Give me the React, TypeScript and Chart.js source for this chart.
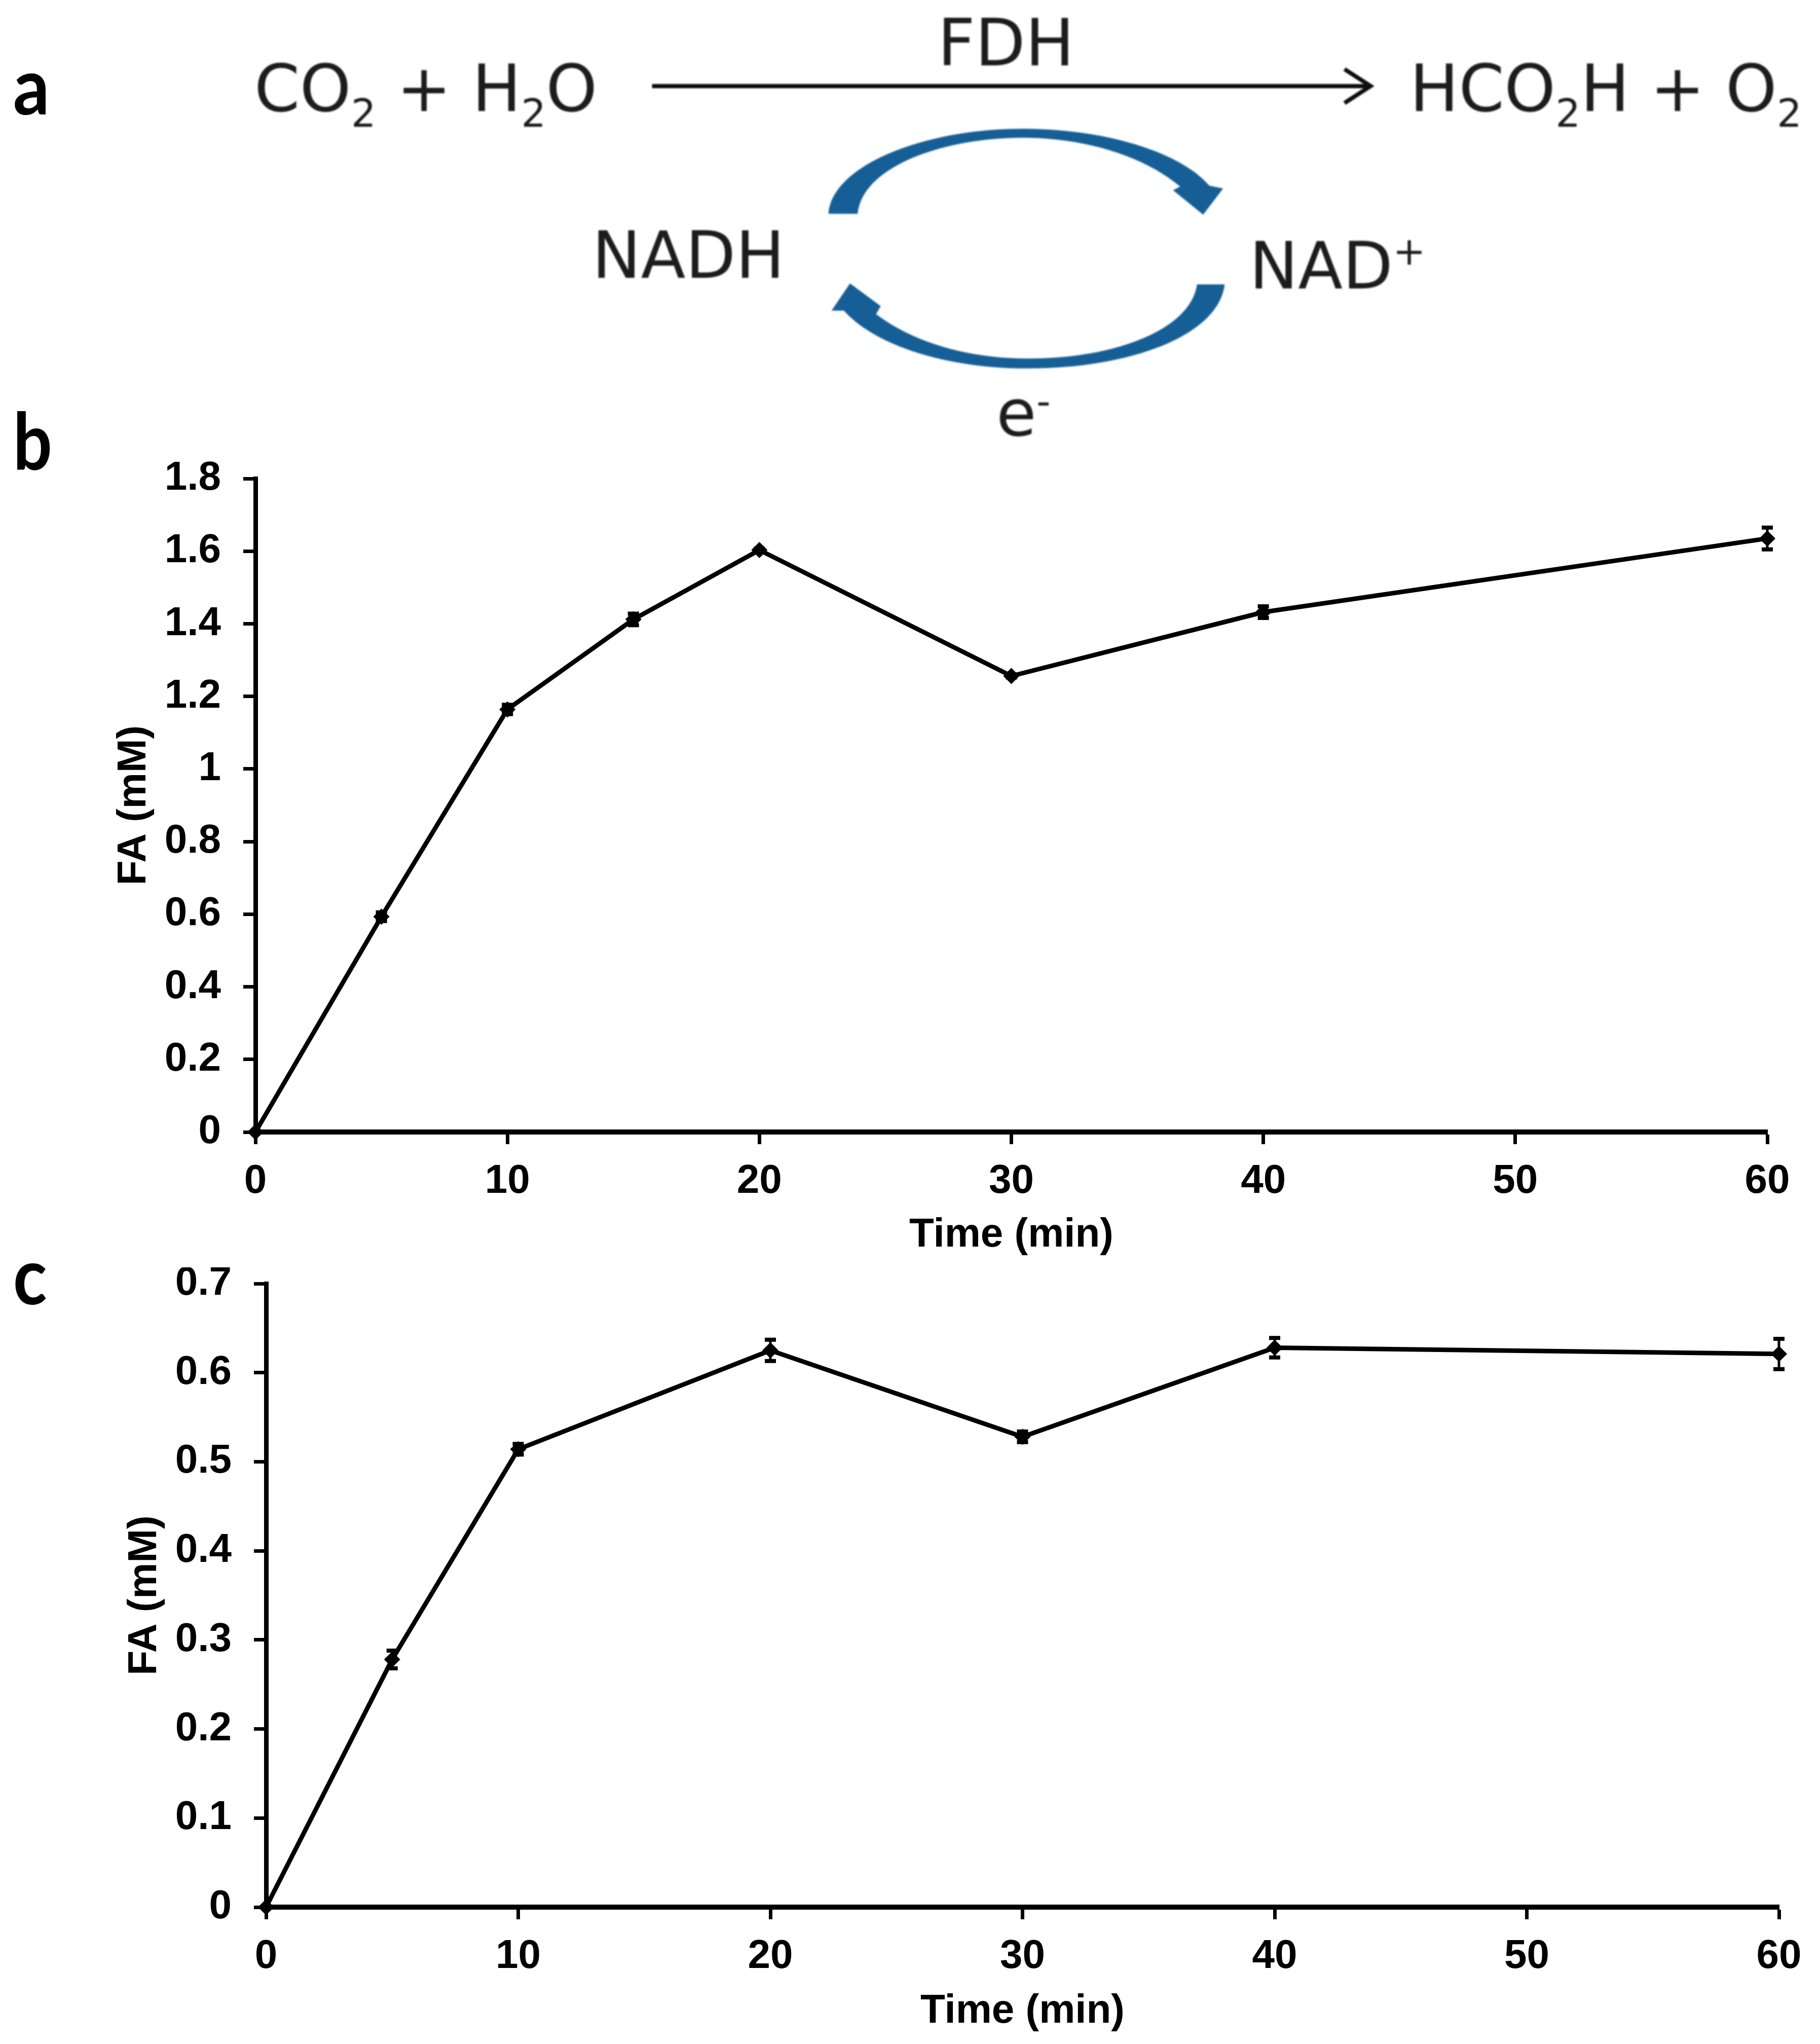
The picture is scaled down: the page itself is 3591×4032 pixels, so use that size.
import React, { useEffect, useRef } from "react";
import { Chart, registerables } from "chart.js";

Chart.register(...registerables);

const timesB = [0, 5, 10, 15, 20, 30, 40, 60];
const valuesB = [0, 0.593, 1.164, 1.412, 1.603, 1.256, 1.432, 1.635];
const errorsB = [0, 0.012, 0.013, 0.016, 0.004, 0.004, 0.016, 0.03];
const yLabelsB = ["0", "0.2", "0.4", "0.6", "0.8", "1", "1.2", "1.4", "1.6", "1.8"];

const timesC = [0, 5, 10, 20, 30, 40, 60];
const valuesC = [0, 0.278, 0.514, 0.625, 0.528, 0.628, 0.621];
const errorsC = [0, 0.01, 0.006, 0.012, 0.006, 0.011, 0.017];
const yLabelsC = ["0", "0.1", "0.2", "0.3", "0.4", "0.5", "0.6", "0.7"];

const xLabels = ["0", "10", "20", "30", "40", "50", "60"];

const FONT = "'Liberation Sans', Arial, sans-serif";

const errorBars = {
  id: "errorBars",
  afterDatasetsDraw(chart: any, _a: any, opts: any) {
    const { ctx, scales } = chart;
    const xs: number[] = opts.times;
    const ys: number[] = opts.values;
    const es: number[] = opts.errors;
    ctx.save();
    ctx.strokeStyle = "#000";
    xs.forEach((t, i) => {
      if (!es[i]) return;
      const px = scales.x.getPixelForValue(t);
      const hi = scales.y.getPixelForValue(ys[i] + es[i]);
      const lo = scales.y.getPixelForValue(ys[i] - es[i]);
      ctx.lineWidth = 5;
      ctx.beginPath();
      ctx.moveTo(px, hi);
      ctx.lineTo(px, lo);
      ctx.stroke();
      ctx.lineWidth = 8;
      ctx.beginPath();
      ctx.moveTo(px - 11, hi);
      ctx.lineTo(px + 11, hi);
      ctx.moveTo(px - 11, lo);
      ctx.lineTo(px + 11, lo);
      ctx.stroke();
    });
    ctx.restore();
  },
};

type PanelProps = {
  times: number[];
  values: number[];
  errors: number[];
  yLabels: string[];
  yMax: number;
  yStep: number;
  canvasTop: number;
  canvasHeight: number;
  plotLeft: number;
  plotRight: number;
  plotTop: number;
  plotBottom: number;
  yTitleX: number;
  xTitleY: number;
};

function Panel(p: PanelProps) {
  const ref = useRef<HTMLCanvasElement | null>(null);
  useEffect(() => {
    if (!ref.current) return;
    const W = 3591;
    const top = p.plotTop - p.canvasTop;
    const xAxisHeight = p.canvasHeight - (p.plotBottom - p.canvasTop);
    const font = { family: FONT, size: 80, weight: "bold" as const };
    const chart = new Chart(ref.current, {
      type: "line",
      data: {
        datasets: [
          {
            data: p.times.map((x, i) => ({ x, y: p.values[i] })),
            borderColor: "#000",
            backgroundColor: "#000",
            borderWidth: 9,
            tension: 0,
            pointStyle: "rectRot",
            pointRadius: 16,
            pointBorderWidth: 0,
            pointBackgroundColor: "#000",
            clip: false,
          },
        ],
      },
      options: {
        animation: false,
        responsive: false,
        devicePixelRatio: 1,
        layout: { padding: { left: 0, top, right: W - p.plotRight, bottom: 0 } },
        plugins: {
          legend: { display: false },
          tooltip: { enabled: false },
          errorBars: { times: p.times, values: p.values, errors: p.errors },
        },
        scales: {
          x: {
            type: "linear",
            min: 0,
            max: 60,
            afterFit(scale: any) {
              scale.height = xAxisHeight;
              scale.paddingLeft = 0;
              scale.paddingRight = 0;
            },
            border: { display: true, color: "#000", width: 10 },
            grid: { drawOnChartArea: false, drawTicks: true, tickLength: 24, tickWidth: 7, tickColor: "#000" },
            ticks: {
              stepSize: 10,
              maxRotation: 0,
              autoSkip: false,
              color: "#000",
              font,
              padding: 26,
              callback: (_v: any, i: number) => xLabels[i],
            },
            title: {
              display: true,
              text: "Time (min)",
              color: "#000",
              font,
              padding: { top: 0, bottom: p.canvasTop + p.canvasHeight - p.xTitleY - 48 },
            },
          },
          y: {
            type: "linear",
            min: 0,
            max: p.yMax,
            afterFit(scale: any) {
              scale.width = p.plotLeft;
              scale.paddingTop = 0;
              scale.paddingBottom = 0;
            },
            border: { display: true, color: "#000", width: 9 },
            grid: { drawOnChartArea: false, drawTicks: true, tickLength: 24, tickWidth: 7, tickColor: "#000" },
            ticks: {
              stepSize: p.yStep,
              autoSkip: false,
              color: "#000",
              font,
              padding: 44,
              callback: (_v: any, i: number) => p.yLabels[i],
            },
            title: {
              display: true,
              text: "FA (mM)",
              color: "#000",
              font,
              padding: { top: p.yTitleX - 48, bottom: 0 },
            },
          },
        },
      } as any,
      plugins: [errorBars as any],
    });
    return () => chart.destroy();
  }, []);
  return (
    <canvas
      ref={ref}
      width={3591}
      height={p.canvasHeight}
      style={{ position: "absolute", left: 0, top: p.canvasTop, width: 3591, height: p.canvasHeight }}
    />
  );
}

function Sub({ children }: { children: string }) {
  return (
    <tspan fontSize={30} dy={12}>
      {children}
    </tspan>
  );
}

function Diagram() {
  const t = { fontFamily: "'DejaVu Sans', sans-serif", fontSize: 50, fill: "#1a1a1a" };
  const blue = "#175E96";
  const panel = { fontFamily: "Lato, sans-serif", fontSize: 60, fontWeight: 700, fill: "#000", lengthAdjust: "spacingAndGlyphs" as const };
  return (
    <svg
      viewBox="0 0 1395.6 1567"
      width={3591}
      height={4032}
      style={{ position: "absolute", left: 0, top: 0 }}
    >
      <defs>
        <filter id="soft" x="-5%" y="-5%" width="110%" height="110%">
          <feGaussianBlur stdDeviation="0.7" />
        </filter>
      </defs>
      <text x={10} y={88} textLength={28} {...panel}>a</text>
      <text x={10} y={360} textLength={30} {...panel}>b</text>
      <text x={10} y={1000} textLength={26} {...panel}>c</text>

      <g filter="url(#soft)">
        <text x={195} y={85} {...t}>
          CO<Sub>2</Sub>
          <tspan dy={-12}> + H</tspan>
          <Sub>2</Sub>
          <tspan dy={-12}>O</tspan>
        </text>
        <text x={1081} y={85} {...t}>
          HCO<Sub>2</Sub>
          <tspan dy={-12}>H + O</tspan>
          <Sub>2</Sub>
        </text>
        <text x={719} y={50} {...t}>FDH</text>
        <text x={454} y={213} {...t}>NADH</text>
        <text x={958} y={221} {...t}>
          NAD
          <tspan fontSize={30} dy={-18}>+</tspan>
        </text>
        <text x={764} y={334} {...t}>
          e
          <tspan fontSize={30} dy={-16}>-</tspan>
        </text>

        <g fill="none" stroke="#111" strokeWidth={3.2}>
          <line x1={500} y1={66} x2={1050} y2={66} />
          <polyline points="1031,53 1051,66 1031,79" />
        </g>

        <g transform="scale(0.3886) translate(1550 220) scale(0.606 0.357)" fill={blue}>
          <path d="M140 565 C 150 300, 450 95, 770 95 C 1050 95, 1290 230, 1380 410 L 1425 425 L 1360 570 L 1262 435 L 1285 415 C 1170 250, 980 145, 770 145 C 520 145, 250 300, 235 565 Z" />
          <path d="M210 950 L310 1075 L295 1120 C 420 1280, 600 1365, 790 1365 C 1080 1365, 1320 1200, 1340 955 L1430 955 C 1410 1240, 1120 1420, 790 1420 C 520 1420, 290 1290, 190 1100 L150 1100 Z" />
        </g>
      </g>
    </svg>
  );
}

export default function App() {
  return (
    <div style={{ position: "absolute", left: 0, top: 0, width: 3591, height: 4032, background: "#fff", overflow: "hidden" }}>
      <Diagram />
      <Panel
        times={timesB}
        values={valuesB}
        errors={errorsB}
        yLabels={yLabelsB}
        yMax={1.8}
        yStep={0.2}
        canvasTop={880}
        canvasHeight={1640}
        plotLeft={504}
        plotRight={3487}
        plotTop={944}
        plotBottom={2233}
        yTitleX={265}
        xTitleY={2437}
      />
      <Panel
        times={timesC}
        values={valuesC}
        errors={errorsC}
        yLabels={yLabelsC}
        yMax={0.7}
        yStep={0.1}
        canvasTop={2500}
        canvasHeight={1532}
        plotLeft={525}
        plotRight={3510}
        plotTop={2532}
        plotBottom={3762}
        yTitleX={286}
        xTitleY={3968}
      />
    </div>
  );
}
